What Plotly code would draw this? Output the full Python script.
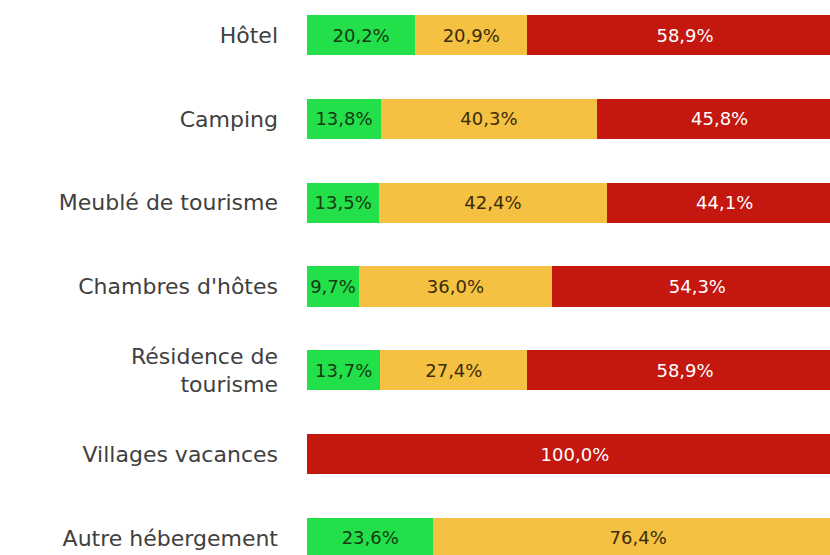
import plotly.graph_objects as go

categories = ["Hôtel", "Camping", "Meublé de tourisme", "Chambres d'hôtes",
              "Résidence de<br>tourisme", "Villages vacances", "Autre hébergement"]
green_vals = [20.2, 13.8, 13.5, 9.7, 13.7, None, 23.6]
yellow_vals = [20.9, 40.3, 42.4, 36.0, 27.4, None, 76.4]
red_vals = [58.9, 45.8, 44.1, 54.3, 58.9, 100.0, None]

series = [
    ("Vert", green_vals, "#22df4a", "#163a12"),
    ("Jaune", yellow_vals, "#f4c143", "#3a2c08"),
    ("Rouge", red_vals, "#c3170f", "#ffffff"),
]

fig = go.Figure()
for name, vals, color, tcolor in series:
    fig.add_trace(go.Bar(
        y=categories, x=vals, name=name, orientation="h",
        marker=dict(color=color, line=dict(width=0)),
        texttemplate="%{x:.1f}%", textposition="inside",
        insidetextanchor="middle", constraintext="none",
        textfont=dict(family="DejaVu Sans", size=18, color=tcolor),
        hoverinfo="skip",
    ))

fig.update_layout(
    barmode="stack", bargap=0.52, separators=", ",
    width=830, height=555,
    margin=dict(l=307, r=0, t=0, b=0),
    paper_bgcolor="white", plot_bgcolor="white",
    showlegend=False,
    xaxis=dict(range=[0, 97.6], visible=False, showgrid=False, zeroline=False),
    yaxis=dict(categoryorder="array", categoryarray=categories,
               range=[6.203, -0.418], showgrid=False, zeroline=False,
               showline=False, ticks="", ticklabelstandoff=28,
               tickfont=dict(family="DejaVu Sans", size=22, color="#404040")),
)

fig.write_html(
    "out.html",
    config={"displayModeBar": False},
    post_script="document.body.style.margin='0';document.body.style.overflow='hidden';",
)
